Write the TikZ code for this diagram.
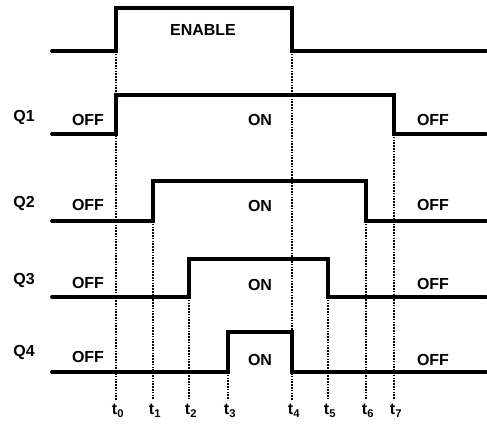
\documentclass[tikz,border=0pt]{standalone}
\usepackage{fontspec}
\setmainfont{Liberation Sans}
\begin{document}
\begin{tikzpicture}[x=1pt,y=-1pt,
  wave/.style={line width=3.8pt, line cap=round, line join=miter},
  guide/.style={line width=1.9pt, dash pattern=on 1.6pt off 1.2pt},
  lbl/.style={font=\bfseries\fontsize{16}{16}\selectfont, inner sep=0pt, anchor=center}]
\useasboundingbox (0,0) rectangle (487,423);
% guide lines
\coordinate (g0t) at (116,51);  \coordinate (g0b) at (116,400);
\coordinate (g1t) at (153,221); \coordinate (g1b) at (153,400);
\coordinate (g2t) at (189,297); \coordinate (g2b) at (189,400);
\coordinate (g3t) at (228,372); \coordinate (g3b) at (228,400);
\coordinate (g4t) at (292,51);  \coordinate (g4b) at (292,400);
\coordinate (g5t) at (328,297); \coordinate (g5b) at (328,400);
\coordinate (g6t) at (366,221); \coordinate (g6b) at (366,400);
\coordinate (g7t) at (394,134); \coordinate (g7b) at (394,400);
\foreach \i in {0,...,7} \draw[guide] (g\i t) -- (g\i b);
% waveforms
\draw[wave] (52,51) -- (116,51) -- (116,8) -- (292,8) -- (292,51) -- (486,51);
\draw[wave] (52,134) -- (116,134) -- (116,95) -- (394,95) -- (394,134) -- (486,134);
\draw[wave] (52,221) -- (153,221) -- (153,181) -- (366,181) -- (366,221) -- (486,221);
\draw[wave] (52,297) -- (189,297) -- (189,259) -- (328,259) -- (328,297) -- (486,297);
\draw[wave] (52,372) -- (228,372) -- (228,332) -- (292,332) -- (292,372) -- (486,372);
% labels
\node[lbl] (en) at (203,30) {ENABLE};
\node[lbl] (q1) at (24,117) {Q1};
\node[lbl] (q2) at (24,203) {Q2};
\node[lbl] (q3) at (24,280) {Q3};
\node[lbl] (q4) at (24,352) {Q4};
\node[lbl] (off1a) at (88,120) {OFF};
\node[lbl] (on1) at (260,120) {ON};
\node[lbl] (off1b) at (433,120) {OFF};
\node[lbl] (off2a) at (88,205) {OFF};
\node[lbl] (on2) at (260,206) {ON};
\node[lbl] (off2b) at (433,205) {OFF};
\node[lbl] (off3a) at (88,283) {OFF};
\node[lbl] (on3) at (260,285) {ON};
\node[lbl] (off3b) at (433,284) {OFF};
\node[lbl] (off4a) at (88,357) {OFF};
\node[lbl] (on4) at (260,360) {ON};
\node[lbl] (off4b) at (433,360) {OFF};
\foreach \i/\x in {0/116,1/153,2/189,3/228,4/292,5/328,6/366,7/394}
  \node[lbl, anchor=north] (t\i) at (\x+2,404) {t\textsubscript{\i}};
\end{tikzpicture}
\end{document}
